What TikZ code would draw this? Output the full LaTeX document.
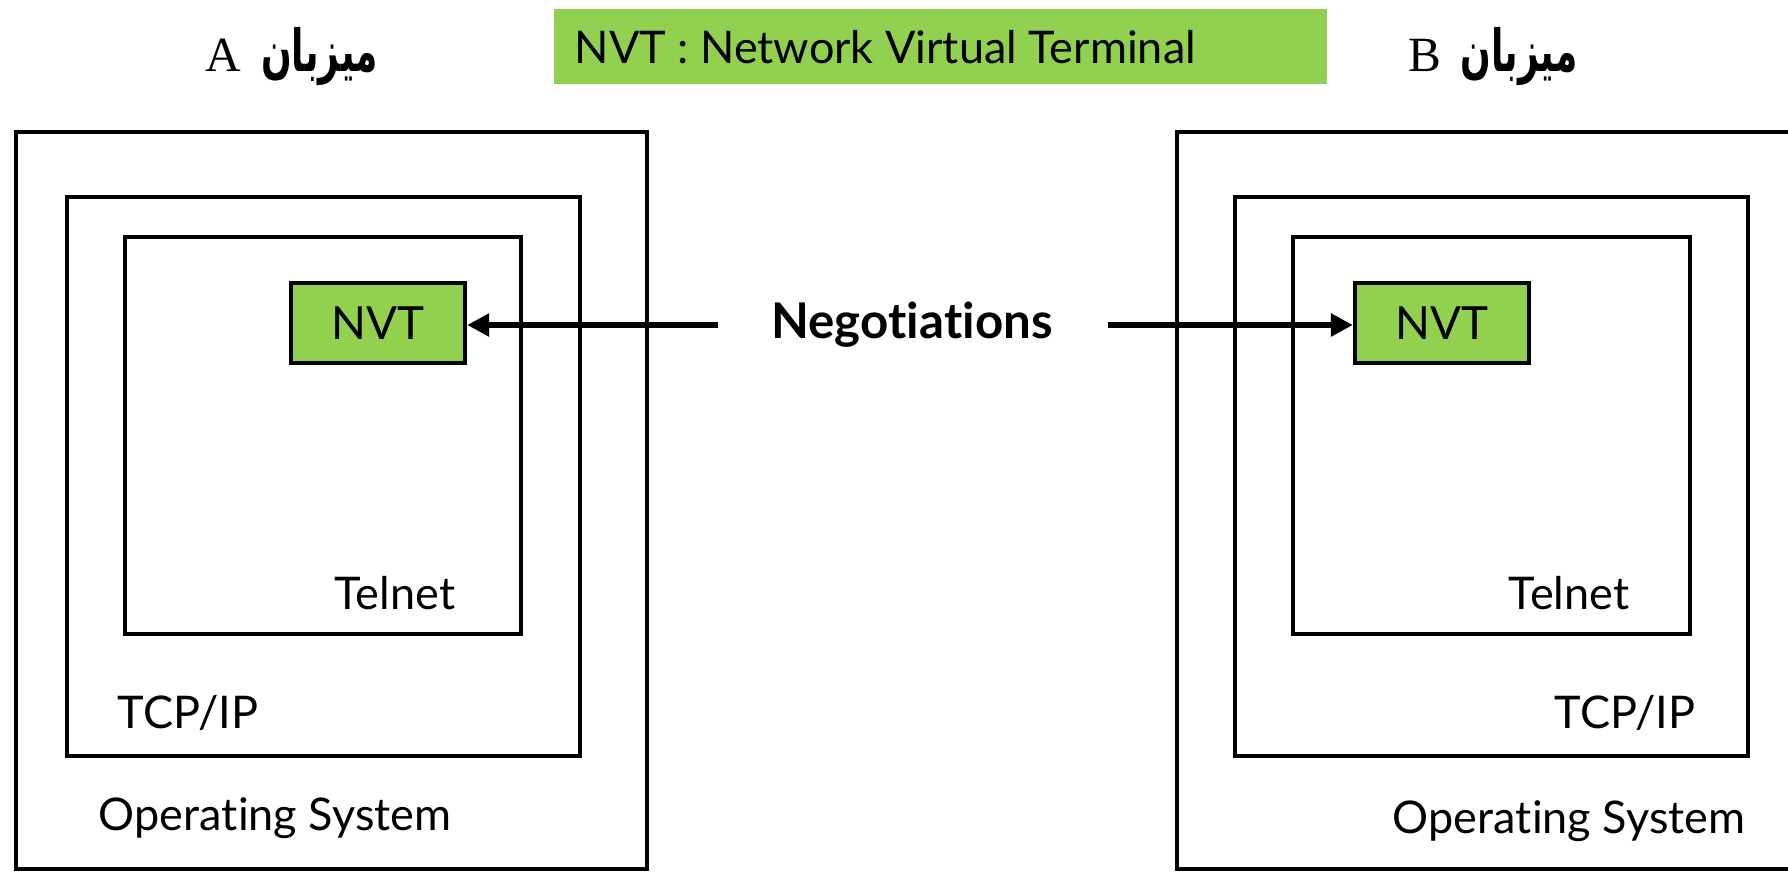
\documentclass[tikz,border=0pt]{standalone}
\usepackage{fontspec}
\setmainfont[RawFeature={-liga,-dlig,-calt}]{Lato}
\newfontfamily\arabicfont[Script=Arabic]{DejaVu Sans}
\newfontfamily\latinserif{Liberation Serif}
\TeXXeTstate=1
\usetikzlibrary{arrows.meta}
\definecolor{nvtgreen}{HTML}{92D050}
\newcommand{\hostword}{\scalebox{0.62}[1]{\fontsize{16.5}{18}\selectfont\arabicfont\bfseries\beginR میزبان\endR}}
\tikzset{
  frame/.style={draw, line width=1.2pt, rectangle, inner sep=0pt},
  greenbox/.style={frame, fill=nvtgreen},
  lbl/.style={font=\fontsize{12.8}{15}\selectfont, inner sep=0pt},
  hostlbl/.style={font=\fontsize{14}{16}\selectfont, inner sep=0pt},
  arr/.style={line width=1.7pt, -{Triangle[length=0.22cm,width=0.22cm]}},
}
\begin{document}
\begin{tikzpicture}[x=0.01cm, y=-0.01cm]
\useasboundingbox (0,0) rectangle (1788,872);
% banner
\node[fill=nvtgreen, minimum width=7.73cm, minimum height=0.75cm, inner sep=0pt] (banner) at (940.5,46.5) {};
\node[lbl, anchor=west] (bannertxt) at (574,47) {NVT : Network Virtual Terminal};
% host labels
\node[hostlbl] (hA) at (292,57) {{\latinserif A}\hspace{0.4em}\hostword};
\node[hostlbl] (hB) at (1493,57) {{\latinserif B}\hspace{0.4em}\hostword};
% host A
\node[frame, minimum width=6.31cm, minimum height=7.37cm] (osA) at (331.5,500.5) {};
\node[frame, minimum width=5.13cm, minimum height=5.59cm] (tcpA) at (323.5,476.5) {};
\node[frame, minimum width=3.96cm, minimum height=3.97cm] (telA) at (323,435.5) {};
\node[greenbox, minimum width=1.74cm, minimum height=0.80cm, font=\fontsize{13}{15}\selectfont] (nvtA) at (378,323) {NVT};
\node[lbl] (telAt) at (395,593) {Telnet};
\node[lbl] (tcpAt) at (188,713) {TCP/IP};
\node[lbl] (osAt) at (275,818) {Opera\kern0pt ting System};
% host B
\node[frame, minimum width=6.31cm, minimum height=7.37cm] (osB) at (1492.5,500.5) {};
\node[frame, minimum width=5.13cm, minimum height=5.59cm] (tcpB) at (1491.5,476.5) {};
\node[frame, minimum width=3.97cm, minimum height=3.97cm] (telB) at (1491.5,435.5) {};
\node[greenbox, minimum width=1.74cm, minimum height=0.80cm, font=\fontsize{13}{15}\selectfont] (nvtB) at (1442,323) {NVT};
\node[lbl] (telBt) at (1569,593) {Telnet};
\node[lbl] (tcpBt) at (1625,713) {TCP/IP};
\node[lbl] (osBt) at (1569,821) {Opera\kern0pt ting System};
% negotiations
\node[lbl, font=\fontsize{14}{16}\selectfont\bfseries] (neg) at (912,325) {Nego\kern0pt tia\kern0pt tions};
\coordinate (la) at (718,325);
\coordinate (ra) at (1108,325);
\draw[arr] (la) -- (nvtA.east |- la);
\draw[arr] (ra) -- (nvtB.west |- ra);
\end{tikzpicture}
\end{document}
